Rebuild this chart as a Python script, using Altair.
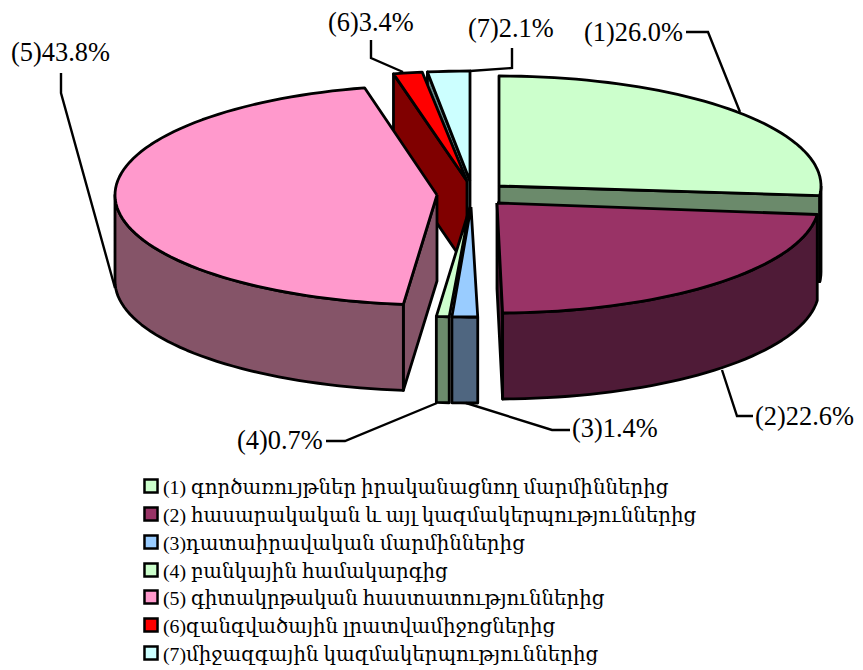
import math
import altair as alt
import pandas as pd

# ---- chart values
names = ["(1) գործառույթներ իրականացնող մարմիններից",
         "(2) հասարակական և այլ կազմակերպություններից",
         "(3)դատաիրավական մարմիններից",
         "(4) բանկային համակարգից",
         "(5) գիտակրթական հաստատություններից",
         "(6)զանգվածային լրատվամիջոցներից",
         "(7)միջազգային կազմակերպություններից"]
pie_labels = ["(1)26.0%", "(2)22.6%", "(3)1.4%", "(4)0.7%", "(5)43.8%", "(6)3.4%", "(7)2.1%"]
top_colors = ["#CCFFCC", "#993366", "#99CCFF", "#CCFFCC", "#FF99CC", "#FF0000", "#CCFFFF"]
wall_colors = ["#6B8A6B", "#4F1B37", "#4F6680", "#6B8A6B", "#855468", "#800000", "#668A8A"]
# sweep of every slice as drawn, degrees clockwise from 12 o'clock
sweep_start = [0, 96, 178.8, 183.7, 186, 346.8, 352.4]
sweep_end = [95, 179, 183.4, 186, 347, 352, 360]
# exploded centre of every slice
apex_x = [499, 497, 471, 470, 437, 467, 470]
apex_y = [186, 203, 207, 207, 195, 181, 181]
RX, RY, DEPTH = 322, 110, 86

# leader lines
leaders = [[(686, 32), (708, 32), (740, 112)],
           [(722, 370), (737, 416), (753, 416)],
           [(466, 403), (552, 430), (570, 430)],
           [(437, 403), (345, 441), (326, 441)],
           [(61, 73), (61, 93), (115, 288)],
           [(371, 40), (371, 58), (403, 72)],
           [(512, 48), (512, 68), (470, 71)]]
label_x = [584, 755, 572, 237, 11, 328, 468]
label_y = [33, 417, 429, 441, 53, 23, 29]
legend_y = [486, 514, 542, 570, 597, 625, 653]

W, H = 847, 660
xs = alt.Scale(domain=[8, 8 + W], nice=False, zero=False)
ys = alt.Scale(domain=[8 + H, 8], nice=False, zero=False)


def rim(i, t):
    r = math.radians(t)
    return apex_x[i] + RX * math.sin(r), apex_y[i] - RY * math.cos(r)


def arc(i, a, b):
    n = max(2, int(abs(b - a) / 2) + 1)
    return [rim(i, a + (b - a) * k / n) for k in range(n + 1)]


def poly(pts, fill, sw=2.8):
    pts = list(pts) + [pts[0]]
    df = pd.DataFrame({"x": [p[0] for p in pts], "y": [p[1] for p in pts], "o": range(len(pts))})
    return alt.Chart(df).mark_line(fill=fill, stroke="black", strokeWidth=sw, strokeJoin="round",
                                   clip=False).encode(
        x=alt.X("x:Q", scale=xs, axis=None), y=alt.Y("y:Q", scale=ys, axis=None), order="o:Q")


def top(i):
    return poly([(apex_x[i], apex_y[i])] + arc(i, sweep_start[i], sweep_end[i]), top_colors[i])


def radial_wall(i, t):
    ax, ay = apex_x[i], apex_y[i]
    px, py = rim(i, t)
    return poly([(ax, ay), (px, py), (px, py + DEPTH), (ax, ay + DEPTH)], wall_colors[i])


def outer_wall(i, a, b):
    edge = arc(i, a, b)
    return poly(edge + [(x, y + DEPTH) for x, y in reversed(edge)], wall_colors[i])


layers = [
    radial_wall(0, sweep_end[0]), outer_wall(0, 90, sweep_end[0]), top(0),
    radial_wall(6, sweep_start[6]), top(6),
    radial_wall(5, sweep_start[5]), top(5),
    radial_wall(4, sweep_start[4]), outer_wall(4, sweep_start[4], 270), top(4),
    radial_wall(1, sweep_end[1]), outer_wall(1, sweep_start[1], sweep_end[1]), top(1),
    outer_wall(3, sweep_start[3], sweep_end[3]), top(3),
    outer_wall(2, sweep_start[2], sweep_end[2]), top(2),
]

for line in leaders:
    df = pd.DataFrame({"x": [p[0] for p in line], "y": [p[1] for p in line], "o": range(len(line))})
    layers.append(alt.Chart(df).mark_line(color="black", strokeWidth=2.4).encode(
        x=alt.X("x:Q", scale=xs, axis=None), y=alt.Y("y:Q", scale=ys, axis=None), order="o:Q"))

label_df = pd.DataFrame({"x": label_x, "y": label_y, "t": pie_labels})
layers.append(alt.Chart(label_df).mark_text(align="left", baseline="middle", font="Liberation Serif",
                                            fontSize=26.4, color="black").encode(
    x=alt.X("x:Q", scale=xs, axis=None), y=alt.Y("y:Q", scale=ys, axis=None), text="t:N"))

leg_df = pd.DataFrame({"y": legend_y, "t": names, "c": top_colors, "x": 151, "tx": 163})
layers.append(alt.Chart(leg_df).mark_point(shape="square", filled=True, size=170, stroke="black",
                                           strokeWidth=2.5, opacity=1).encode(
    x=alt.X("x:Q", scale=xs, axis=None), y=alt.Y("y:Q", scale=ys, axis=None),
    fill=alt.Fill("c:N", scale=None)))
layers.append(alt.Chart(leg_df).mark_text(align="left", baseline="middle", dy=2,
                                          font="Liberation Serif, DejaVu Serif",
                                          fontSize=19.8, color="black").encode(
    x=alt.X("tx:Q", scale=xs, axis=None), y=alt.Y("y:Q", scale=ys, axis=None), text="t:N"))

chart = alt.layer(*layers).properties(
    width=W, height=H, padding=0, autosize=alt.AutoSizeParams(type="none"), background="white"
).configure_view(stroke=None)
chart.save("out.html", embed_options={"renderer": "svg", "actions": False})
